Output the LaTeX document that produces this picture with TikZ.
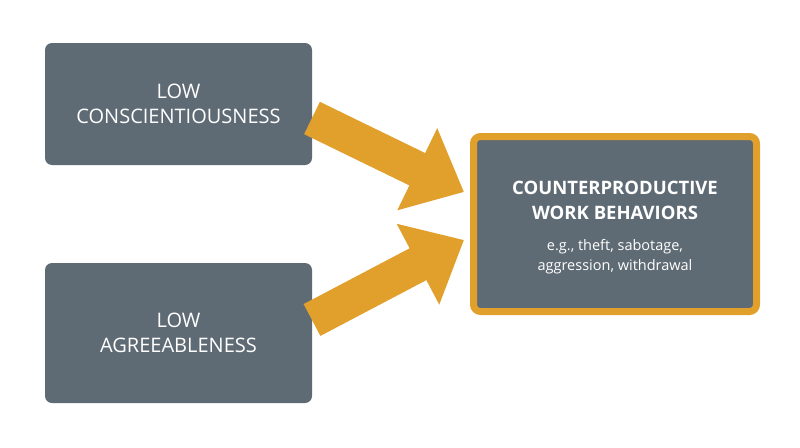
\documentclass[tikz,border=0pt]{standalone}
\usepackage{fontspec}
\setmainfont{Open Sans}
\usetikzlibrary{arrows.meta}
\definecolor{boxgray}{HTML}{5F6B74}
\definecolor{gold}{HTML}{E19F2C}
\begin{document}
\begin{tikzpicture}[x=1pt,y=-1pt,
  box/.style={fill=boxgray,rounded corners=7pt,text=white,align=center,inner sep=0pt},
  fat/.style={draw=gold,line width=36pt,-{Triangle[width=88pt,length=52pt]}}]
\useasboundingbox (0,0) rectangle (800,447);
\node[box,minimum width=267pt,minimum height=122pt,font=\fontsize{20}{25}\selectfont] (a) at (178.5,104) {LOW\\CONSCIENTIOUSNESS};
\node[box,minimum width=267pt,minimum height=140pt,font=\fontsize{20}{25}\selectfont] (b) at (178.5,333) {LOW\\AGREEABLENESS};
\node[box,draw=gold,line width=7pt,minimum width=283pt,minimum height=175pt] (c) at (615,224) {};
\node[text=white,align=center,font=\bfseries\fontsize{18.5}{25}\selectfont] (t) at (615,200) {COUNTERPRODUCTIVE\\WORK BEHAVIORS};
\node[text=white,align=center,font=\fontsize{14.5}{20}\selectfont] (s) at (615,257) {e.g., theft, sabotage,\\aggression, withdrawal};
\coordinate (a1) at (312,118);
\coordinate (a2) at (464,192);
\coordinate (b1) at (312,320);
\coordinate (b2) at (464,240);
\draw[fat] (a1) -- (a2);
\draw[fat] (b1) -- (b2);
\end{tikzpicture}
\end{document}
